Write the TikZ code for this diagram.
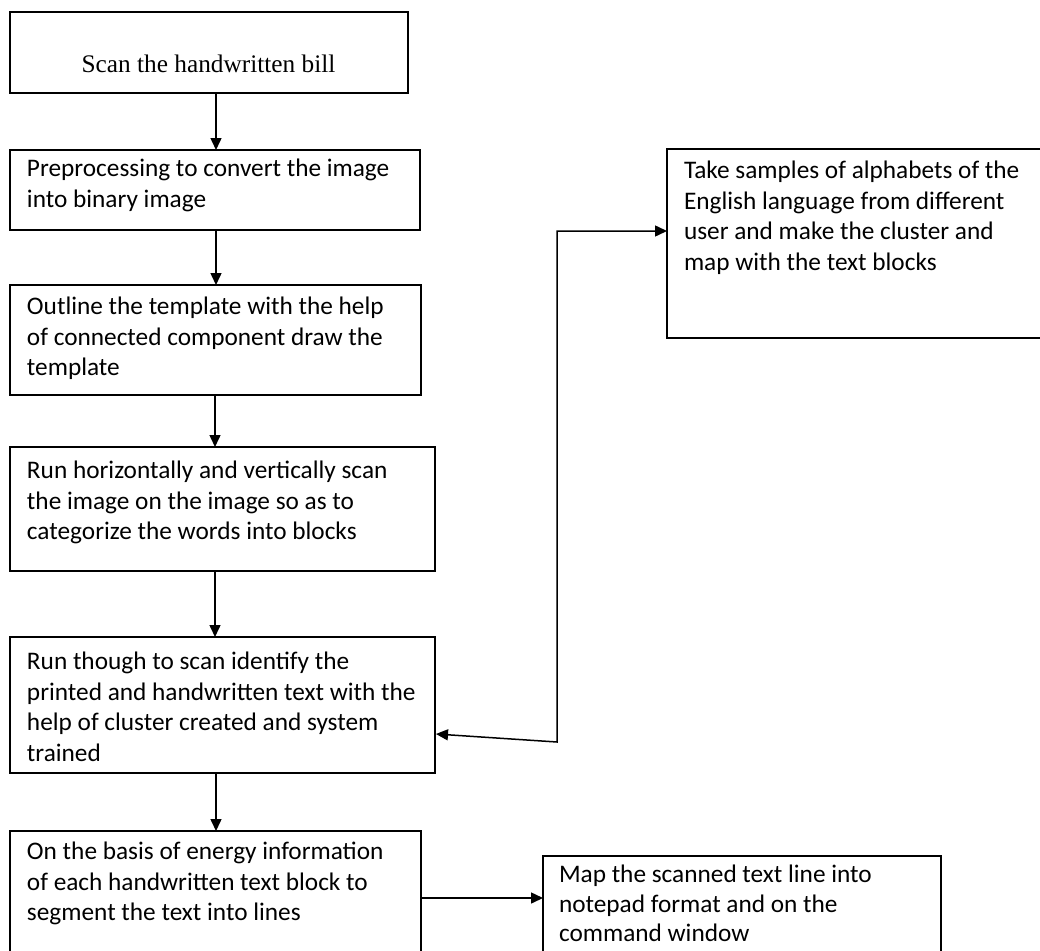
\documentclass[tikz,border=0pt]{standalone}
\usepackage{fontspec}
\setmainfont{Carlito}
\newfontfamily\serifs{Liberation Serif}
\usetikzlibrary{arrows.meta}
\begin{document}
\begin{tikzpicture}[x=1pt,y=-1pt,
  box/.style={draw=black,line width=1.8pt,inner sep=0pt,outer sep=0pt,anchor=north west,rectangle},
  txt/.style={inner sep=0pt,outer sep=0pt,anchor=north west,align=left,font=\fontsize{25.3}{30.6}\selectfont},
  conn/.style={line width=1.5pt,-{Triangle[length=12pt,width=11pt]}},
  dconn/.style={line width=1.5pt,{Triangle[length=12pt,width=11pt]}-{Triangle[length=12pt,width=11pt]}}]
\clip (0,0) rectangle (1040,950);
\fill[white] (0,0) rectangle (1040,950);
% boxes
\node[box,minimum width=398pt,minimum height=81pt] (b1) at (10,12) {};
\node[box,minimum width=410pt,minimum height=80pt] (b2) at (10,150) {};
\node[box,minimum width=411pt,minimum height=110pt] (b3) at (10,285) {};
\node[box,minimum width=425pt,minimum height=124pt] (b4) at (10,447) {};
\node[box,minimum width=425pt,minimum height=136pt] (b5) at (10,637) {};
\node[box,minimum width=411pt,minimum height=150pt] (b6) at (10,831) {};
\node[box,minimum width=420pt,minimum height=189pt] (b7) at (667,149) {};
\node[box,minimum width=398pt,minimum height=150pt] (b8) at (543,856) {};
% texts
\node[inner sep=0pt,anchor=base,font=\serifs\fontsize{25.3}{30.6}\selectfont] (t1) at (208.5,72) {Scan the handwritten bill};
\node[txt] (t2) at (27,155.3) {\strut Preprocessing to convert the image\\into binary image};
\node[txt] (t3) at (27,293.3) {\strut Outline the template with the help\\of connected component draw the\\template};
\node[txt] (t4) at (27,457.3) {\strut Run horizontally and vertically scan\\the image on the image so as to\\categorize the words into blocks};
\node[txt] (t5) at (27,648.3) {\strut Run though to scan identify the\\printed and handwritten text with the\\help of cluster created and system\\trained};
\node[txt] (t6) at (27,838.3) {\strut On the basis of energy information\\of each handwritten text block to\\segment the text into lines};
\node[txt] (t7) at (684,157.3) {\strut Take samples of alphabets of the\\English language from different\\user and make the cluster and\\map with the text blocks};
\node[txt,font=\fontsize{25.3}{29.5}\selectfont] (t8) at (559,862.3) {\strut Map the scanned text line into\\notepad format and on the\\command window};
% connectors
\draw[conn] (216,93) -- (b2.north -| 216,0);
\draw[conn] (b2.south -| 216,0) -- (b3.north -| 216,0);
\draw[conn] (b3.south -| 215,0) -- (b4.north -| 215,0);
\draw[conn] (b4.south -| 215,0) -- (b5.north -| 215,0);
\draw[conn] (b5.south -| 216,0) -- (b6.north -| 216,0);
\coordinate (c1) at (557,742);
\coordinate (c2) at (557,231);
\coordinate (e5) at (436,734);
\draw[dconn] (e5) -- (c1) -- (c2) -- (b7.west |- c2);
\draw[conn] (421,898) -- (b8.west |- 0,898);
\end{tikzpicture}
\end{document}
